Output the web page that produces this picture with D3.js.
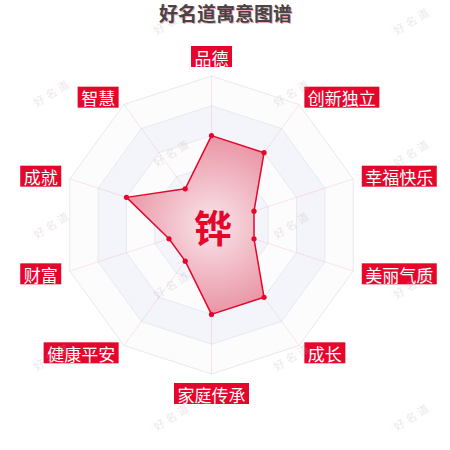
<!DOCTYPE html>
<html>
<head>
<meta charset="utf-8">
<script src="https://cdn.jsdelivr.net/npm/d3@7"></script>
<style>
  html, body { margin: 0; padding: 0; background: #fff; }
  svg { display: block; font-family: "Noto Sans CJK SC", "Noto Sans", sans-serif; }
</style>
</head>
<body>
<div id="my_radar"></div>
<script>
// chart data
const titleText = "好名道寓意图谱";
const centerChar = "铧";
const indicators = ["品德", "创新独立", "幸福快乐", "美丽气质", "成长", "家庭传承", "健康平安", "财富", "成就", "智慧"];
const scores = [6, 6, 3, 3, 6, 6, 3, 3, 6, 3];
const maxScore = 10;
const ringLevels = [2, 4, 6, 8, 10];

const width = 450, height = 450;
const cx = 211.5, cy = 225, R = 149;
const red = "#e5062c";

const svg = d3.select("#my_radar")
    .append("svg")
    .attr("width", width)
    .attr("height", height);

// gradient lives in the translated group's coordinates, so its centre is 0,0
const defs = svg.append("defs");
const grad = defs.append("radialGradient")
    .attr("id", "areaGrad")
    .attr("gradientUnits", "userSpaceOnUse")
    .attr("cx", 0).attr("cy", 0).attr("r", R * 0.62);
grad.append("stop").attr("offset", "0%").attr("stop-color", "rgb(249,230,235)");
grad.append("stop").attr("offset", "40%").attr("stop-color", "rgb(243,196,206)");
grad.append("stop").attr("offset", "100%").attr("stop-color", "rgb(233,146,162)");

// scales
const r = d3.scaleLinear().domain([0, maxScore]).range([0, R]);
const angle = d3.scaleLinear().domain([0, indicators.length]).range([0, 2 * Math.PI]);

const g = svg.append("g").attr("transform", `translate(${cx},${cy})`);

// split areas (drawn from outside in)
const ringPath = lvl => d3.lineRadial()
    .angle((d, i) => angle(i))
    .radius(() => r(lvl))
    .curve(d3.curveLinearClosed)(indicators);

const bandFill = ["#fcfcfd", "#f4f5fa", "#fcfcfd", "#f4f5fa", "#fefefe"];
ringLevels.slice().reverse().forEach(function (lvl, i) {
    g.append("path")
        .attr("d", ringPath(lvl))
        .attr("fill", bandFill[i])
        .attr("stroke", "#e9e9ef")
        .attr("stroke-width", 1);
});

// axis lines
g.selectAll(".axisLine")
    .data(indicators)
    .join("line")
    .attr("x1", 0).attr("y1", 0)
    .attr("x2", (d, i) => r(maxScore) * Math.sin(angle(i)))
    .attr("y2", (d, i) => -r(maxScore) * Math.cos(angle(i)))
    .attr("stroke", "rgba(229,6,44,0.10)")
    .attr("stroke-width", 1);

// watermark
const wm = svg.append("g").attr("fill", "rgba(200,170,176,0.30)")
    .attr("font-size", 11);
for (let col = 0; col < 4; col++) {
    for (let row = 0; row < 4; row++) {
        const wx = 52 + col * 120;
        const wy = (col % 2 ? 20 : 92) + row * 132;
        if (wy > 430) continue;
        wm.append("text")
            .attr("transform", `translate(${wx},${wy}) rotate(-32)`)
            .attr("text-anchor", "middle")
            .attr("dominant-baseline", "central")
            .attr("letter-spacing", 3)
            .text("好名道");
    }
}

// data polygon
const radarLine = d3.lineRadial()
    .angle((d, i) => angle(i))
    .radius(d => r(d))
    .curve(d3.curveLinearClosed);

g.append("path")
    .attr("d", radarLine(scores))
    .attr("fill", "url(#areaGrad)")
    .attr("stroke", red)
    .attr("stroke-width", 1.5)
    .attr("stroke-linejoin", "round");

g.selectAll(".dot")
    .data(scores)
    .join("circle")
    .attr("cx", (d, i) => r(d) * Math.sin(angle(i)))
    .attr("cy", (d, i) => -r(d) * Math.cos(angle(i)))
    .attr("r", 2.6)
    .attr("fill", red);

// indicator labels
const gap = 9, padX = 3.5, boxH = 21;
indicators.forEach(function (name, i) {
    const a = angle(i);
    const sx = Math.sin(a), cyy = -Math.cos(a);
    const px = (R + gap) * sx, py = (R + gap) * cyy;
    const lab = g.append("g");
    const t = lab.append("text")
        .attr("fill", "#fff")
        .attr("font-size", 17)
        .attr("dominant-baseline", "central")
        .text(name);
    const w = t.node().getComputedTextLength() + padX * 2;
    let bx, by;
    if (Math.abs(sx) < 0.01) {
        bx = px - w / 2;
        by = cyy < 0 ? py - boxH : py;
    } else {
        bx = sx > 0 ? px : px - w;
        by = py - boxH / 2;
    }
    lab.insert("rect", "text")
        .attr("x", bx).attr("y", by)
        .attr("width", w).attr("height", boxH)
        .attr("fill", red);
    t.attr("x", bx + padX).attr("y", by + boxH / 2 + 0.5);
});

// center character
g.append("text")
    .attr("x", 1.5).attr("y", 0)
    .attr("text-anchor", "middle")
    .attr("dominant-baseline", "central")
    .attr("font-size", 38)
    .attr("font-weight", "bold")
    .attr("fill", red)
    .text(centerChar);

// title
svg.append("text")
    .attr("x", 225.5).attr("y", 12)
    .attr("text-anchor", "middle")
    .attr("dominant-baseline", "central")
    .attr("font-size", 19)
    .attr("font-weight", "bold")
    .attr("fill", "#454545")
    .style("text-shadow", "1px 1px 0 #f1a9b6")
    .text(titleText);
</script>
</body>
</html>
